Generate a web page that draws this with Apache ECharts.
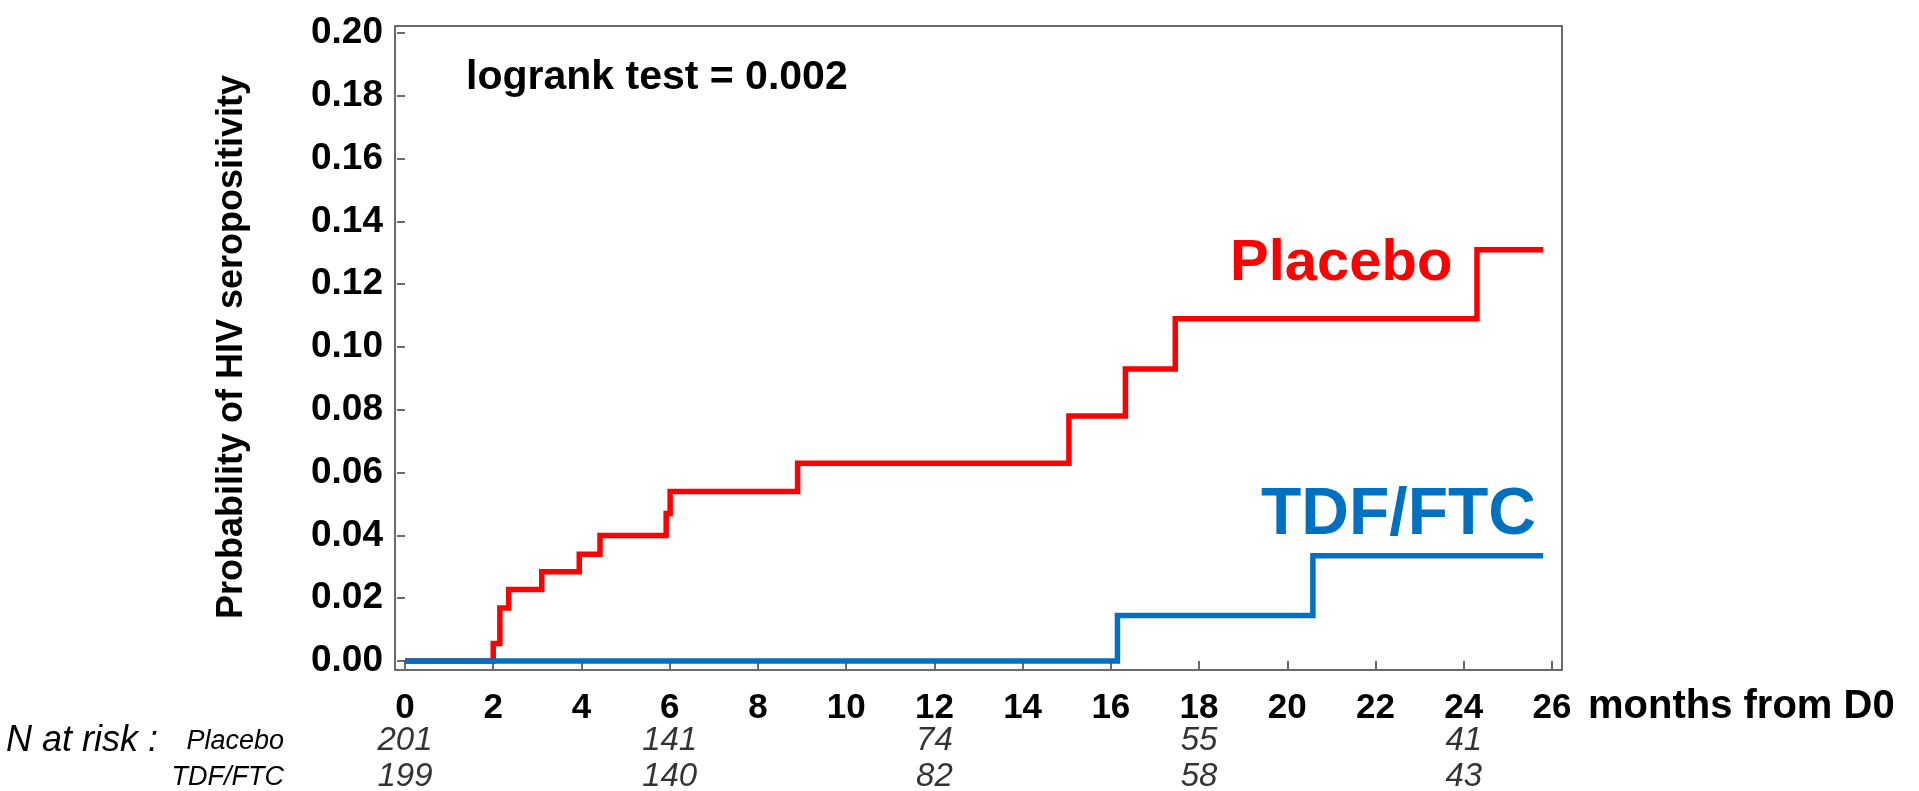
<!DOCTYPE html>
<html><head><meta charset="utf-8">
<script src="https://cdn.jsdelivr.net/npm/echarts/dist/echarts.min.js"></script>
<style>html,body{margin:0;padding:0;background:#fff}#c{width:1919px;height:791px}</style>
</head><body><div id="c"></div>
<script>
// Kaplan-Meier step data (months, cumulative probability)
const placeboTimes = [0, 2.0, 2.15, 2.35, 3.1, 3.95, 4.42, 5.92, 6.01, 8.9, 15.05, 16.33, 17.46, 24.3, 25.8];
const placeboProb  = [0, 0.0056, 0.0169, 0.0228, 0.0284, 0.034, 0.040, 0.047, 0.054, 0.063, 0.078, 0.093, 0.109, 0.131, 0.131];
const tdfTimes = [0, 16.15, 20.58, 25.8];
const tdfProb  = [0, 0.0145, 0.0335, 0.0335];
// number at risk table
const riskMonths  = [0, 6, 12, 18, 24];
const riskPlacebo = [201, 141, 74, 55, 41];
const riskTdf     = [199, 140, 82, 58, 43];
const riskRows = ['Placebo', 'TDF/FTC'];
// axis settings
const xMin = 0, xMax = 26, xStep = 2;
const yMin = 0, yMax = 0.20, yStep = 0.02;

const FF = '"Liberation Sans", Arial, Helvetica, sans-serif';
const axisCol = '#3a3a3a';

const chart = echarts.init(document.getElementById('c'), null, {renderer: 'canvas'});

const placeboData = placeboTimes.map((t, i) => [t, placeboProb[i]]);
const tdfData = tdfTimes.map((t, i) => [t, tdfProb[i]]);
const riskData = [];
riskMonths.forEach((m, i) => {
  riskData.push([m, riskRows[0], riskPlacebo[i]]);
  riskData.push([m, riskRows[1], riskTdf[i]]);
});

const option = {
  backgroundColor: '#ffffff',
  animation: false,
  grid: [
    {left: 405, top: 33, width: 1147, height: 628, outerBoundsMode: 'none', containLabel: false},
    {left: 395, top: 26, width: 1167, height: 644, show: true, borderColor: axisCol, borderWidth: 1.5, backgroundColor: 'transparent', outerBoundsMode: 'none', containLabel: false},
    {left: 405, top: 723, width: 1147, height: 72, outerBoundsMode: 'none', containLabel: false}
  ],
  xAxis: [
    {gridIndex: 0, type: 'value', min: xMin, max: xMax, interval: xStep, offset: 9,
     axisLine: {show: false},
     axisTick: {show: true, length: 8, inside: false, lineStyle: {color: axisCol, width: 1.5}},
     axisLabel: {show: true, margin: 21, fontSize: 35, fontWeight: 'bold', color: '#000', fontFamily: FF, showMinLabel: true, showMaxLabel: true, hideOverlap: false},
     splitLine: {show: false}},
    {gridIndex: 1, type: 'value', min: 0, max: 1, show: false},
    {gridIndex: 2, type: 'value', min: xMin, max: xMax, show: false}
  ],
  yAxis: [
    {gridIndex: 0, type: 'value', min: yMin, max: yMax, interval: yStep, offset: 10,
     axisLine: {show: false},
     axisTick: {show: true, length: 8, inside: false, lineStyle: {color: axisCol, width: 1.5}},
     axisLabel: {show: true, margin: 12, fontSize: 37, fontWeight: 'bold', color: '#000', fontFamily: FF,
       formatter: v => v.toFixed(2), showMinLabel: true, showMaxLabel: true, hideOverlap: false},
     splitLine: {show: false},
     name: 'Probability of HIV seropositivity', nameLocation: 'middle', nameGap: 145,
     nameTextStyle: {fontSize: 36, fontWeight: 'bold', color: '#000', fontFamily: FF}},
    {gridIndex: 1, type: 'value', min: 0, max: 1, show: false},
    {gridIndex: 2, type: 'category', data: riskRows, inverse: true,
     axisLine: {show: false}, axisTick: {show: false}, splitLine: {show: false},
     axisLabel: {interval: 0, hideOverlap: false, margin: 121, fontSize: 27, fontStyle: 'italic', color: '#000', fontFamily: FF}}
  ],
  series: [
    {type: 'line', name: 'Placebo', xAxisIndex: 0, yAxisIndex: 0, step: 'end', data: placeboData,
     showSymbol: false, symbol: 'none', clip: false, z: 3,
     lineStyle: {color: '#FF0000', width: 5.5, join: 'miter', cap: 'butt'}},
    {type: 'line', name: 'TDF/FTC', xAxisIndex: 0, yAxisIndex: 0, step: 'end', data: tdfData,
     showSymbol: false, symbol: 'none', clip: false, z: 4,
     lineStyle: {color: '#0070C0', width: 5.5, join: 'miter', cap: 'butt'}},
    {type: 'scatter', name: 'risk', xAxisIndex: 2, yAxisIndex: 2, data: riskData, symbolSize: 1,
     itemStyle: {color: 'rgba(0,0,0,0)'}, silent: true,
     label: {show: true, position: 'inside', formatter: p => String(p.value[2]),
       fontSize: 33, fontStyle: 'italic', color: '#000', fontFamily: FF}}
  ],
  graphic: [
    {type: 'text', x: 466, y: 78, style: {text: 'logrank test = 0.002', font: 'bold 41px ' + FF, fill: '#000', verticalAlign: 'middle', textVerticalAlign: 'middle'}},
    {type: 'text', x: 1230, y: 264, style: {text: 'Placebo', font: 'bold 58px ' + FF, fill: '#FF0000', verticalAlign: 'middle', textVerticalAlign: 'middle'}},
    {type: 'text', x: 1261, y: 516, style: {text: 'TDF/FTC', font: 'bold 66px ' + FF, fill: '#0070C0', verticalAlign: 'middle', textVerticalAlign: 'middle'}},
    {type: 'text', x: 1588, y: 707, style: {text: 'months from D0', font: 'bold 40px ' + FF, fill: '#000', verticalAlign: 'middle', textVerticalAlign: 'middle'}},
    {type: 'text', x: 6, y: 741, style: {text: 'N at risk :', font: 'italic 36px ' + FF, fill: '#000', verticalAlign: 'middle', textVerticalAlign: 'middle'}}
  ]
};
chart.setOption(option);
</script></body></html>
